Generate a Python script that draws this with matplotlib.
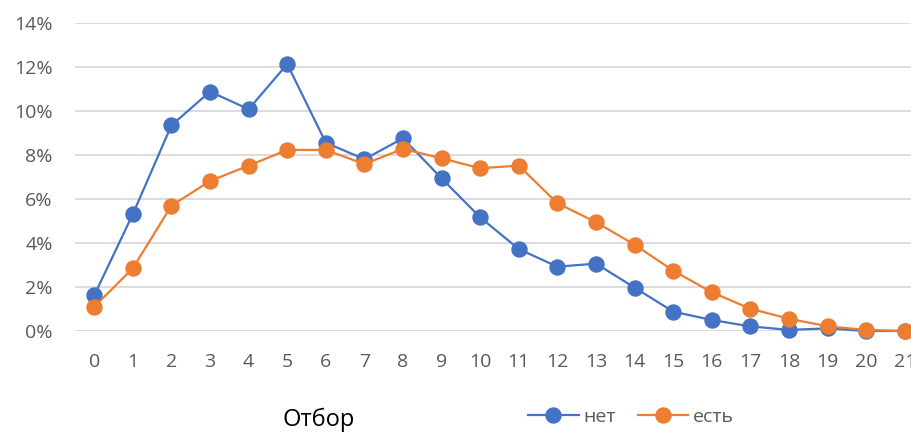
import matplotlib.pyplot as plt
from matplotlib.ticker import FuncFormatter

plt.rcParams['font.family'] = ['Open Sans', 'DejaVu Sans']

x_vals = list(range(22))
net = [1.62, 5.31, 9.34, 10.87, 10.07, 12.12, 8.55, 7.80, 8.75, 6.93, 5.16,
       3.72, 2.92, 3.06, 1.97, 0.88, 0.50, 0.21, 0.05, 0.12, 0.0, 0.0]
est = [1.10, 2.85, 5.69, 6.81, 7.51, 8.22, 8.22, 7.58, 8.27, 7.84, 7.39,
       7.51, 5.80, 4.94, 3.92, 2.74, 1.76, 1.01, 0.56, 0.21, 0.05, 0.0]
labels = ['нет', 'есть']
colors = ['#4472C4', '#ED7D31']

fig = plt.figure(figsize=(9.12, 4.32), dpi=100)
ax = fig.add_axes([0.0822, 0.2338, 0.931, 0.7137])

for ys, lab, c in zip([net, est], labels, colors):
    ax.plot(x_vals, ys, '-o', color=c, lw=1.6, ms=10.8, label=lab, clip_on=False)

ax.set_xlim(-0.5, 21.5)
ax.set_ylim(0, 14)
ax.set_yticks(range(0, 15, 2))
ax.yaxis.set_major_formatter(FuncFormatter(lambda v, p: f'{v:.0f}%'))
ax.set_xticks(x_vals)
ax.grid(axis='y', color='#D9D9D9', lw=1.3)
ax.set_axisbelow(True)
for s in ax.spines.values():
    s.set_visible(False)
ax.tick_params(length=0, colors='#595959', labelsize=14)
ax.tick_params(axis='x', pad=15.5)
ax.tick_params(axis='y', pad=16)

fig.text(319 / 912, 1 - 420 / 432, 'Отбор', ha='center', va='center', fontsize=17, color='black')
fig.legend(loc='center', bbox_to_anchor=(631 / 912, 1 - 417 / 432), ncol=2, frameon=False,
           fontsize=14, handlelength=2.6, handletextpad=0.25, columnspacing=1.1,
           labelcolor='#595959', borderpad=0)

fig.savefig('out.png', dpi=100)
